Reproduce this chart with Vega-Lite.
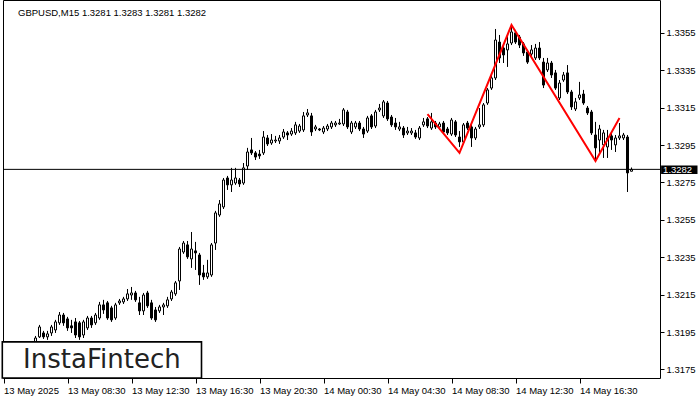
{
  "$schema": "https://vega.github.io/schema/vega-lite/v6.json",
  "autosize": "none",
  "width": 657,
  "height": 378,
  "padding": {"left": 3, "top": 0, "right": 40, "bottom": 22},
  "background": "#ffffff",
  "config": {
    "view": {"stroke": "#000000", "strokeWidth": 1},
    "font": "Liberation Sans"
  },
  "title": {
    "text": "GBPUSD,M15  1.3281 1.3283 1.3281 1.3282",
    "anchor": "start",
    "frame": "group",
    "orient": "top",
    "offset": -22,
    "dx": 15,
    "baseline": "middle",
    "font": "Liberation Sans",
    "fontSize": 9.5,
    "fontWeight": "normal",
    "color": "#000000"
  },
  "datasets": {
    "candles": [
      {"k":0,"o":1.31880,"h":1.31895,"l":1.31840,"c":1.31860},
      {"k":1,"o":1.31860,"h":1.31880,"l":1.31830,"c":1.31850},
      {"k":2,"o":1.31850,"h":1.31890,"l":1.31840,"c":1.31875},
      {"k":3,"o":1.31875,"h":1.31895,"l":1.31850,"c":1.31860},
      {"k":4,"o":1.31860,"h":1.31870,"l":1.31820,"c":1.31835},
      {"k":5,"o":1.31835,"h":1.31870,"l":1.31825,"c":1.31860},
      {"k":6,"o":1.31860,"h":1.31890,"l":1.31850,"c":1.31880},
      {"k":7,"o":1.31880,"h":1.31895,"l":1.31860,"c":1.31870},
      {"k":8,"o":1.31897,"h":1.31929,"l":1.31881,"c":1.31918},
      {"k":9,"o":1.31924,"h":1.31988,"l":1.31918,"c":1.31977},
      {"k":10,"o":1.31945,"h":1.31956,"l":1.31913,"c":1.31924},
      {"k":11,"o":1.31924,"h":1.31956,"l":1.31908,"c":1.31940},
      {"k":12,"o":1.31945,"h":1.31988,"l":1.31929,"c":1.31977},
      {"k":13,"o":1.31961,"h":1.32015,"l":1.31945,"c":1.32004},
      {"k":14,"o":1.31999,"h":1.32057,"l":1.31988,"c":1.32041},
      {"k":15,"o":1.32041,"h":1.32052,"l":1.31983,"c":1.31999},
      {"k":16,"o":1.32020,"h":1.32031,"l":1.31956,"c":1.31972},
      {"k":17,"o":1.31983,"h":1.32015,"l":1.31945,"c":1.31972},
      {"k":18,"o":1.32004,"h":1.32025,"l":1.31918,"c":1.31934},
      {"k":19,"o":1.31999,"h":1.32009,"l":1.31908,"c":1.31924},
      {"k":20,"o":1.31934,"h":1.32015,"l":1.31918,"c":1.32004},
      {"k":21,"o":1.31972,"h":1.32036,"l":1.31961,"c":1.32025},
      {"k":22,"o":1.32025,"h":1.32036,"l":1.31972,"c":1.31988},
      {"k":23,"o":1.31999,"h":1.32052,"l":1.31988,"c":1.32041},
      {"k":24,"o":1.32025,"h":1.32111,"l":1.32015,"c":1.32095},
      {"k":25,"o":1.32095,"h":1.32122,"l":1.32047,"c":1.32068},
      {"k":26,"o":1.32106,"h":1.32116,"l":1.32015,"c":1.32025},
      {"k":27,"o":1.32079,"h":1.32090,"l":1.32004,"c":1.32015},
      {"k":28,"o":1.32025,"h":1.32106,"l":1.32015,"c":1.32095},
      {"k":29,"o":1.32106,"h":1.32127,"l":1.32095,"c":1.32116},
      {"k":30,"o":1.32111,"h":1.32138,"l":1.32100,"c":1.32127},
      {"k":31,"o":1.32127,"h":1.32180,"l":1.32116,"c":1.32154},
      {"k":32,"o":1.32148,"h":1.32191,"l":1.32122,"c":1.32159},
      {"k":33,"o":1.32159,"h":1.32170,"l":1.32111,"c":1.32122},
      {"k":34,"o":1.32106,"h":1.32138,"l":1.32041,"c":1.32063},
      {"k":35,"o":1.32063,"h":1.32159,"l":1.32041,"c":1.32148},
      {"k":36,"o":1.32159,"h":1.32170,"l":1.32079,"c":1.32090},
      {"k":37,"o":1.32106,"h":1.32122,"l":1.32015,"c":1.32025},
      {"k":38,"o":1.32068,"h":1.32084,"l":1.32004,"c":1.32015},
      {"k":39,"o":1.32063,"h":1.32095,"l":1.32052,"c":1.32084},
      {"k":40,"o":1.32084,"h":1.32106,"l":1.32041,"c":1.32095},
      {"k":41,"o":1.32090,"h":1.32138,"l":1.32079,"c":1.32122},
      {"k":42,"o":1.32127,"h":1.32175,"l":1.32116,"c":1.32164},
      {"k":43,"o":1.32154,"h":1.32223,"l":1.32143,"c":1.32213},
      {"k":44,"o":1.32223,"h":1.32405,"l":1.32175,"c":1.32394},
      {"k":45,"o":1.32378,"h":1.32437,"l":1.32368,"c":1.32426},
      {"k":46,"o":1.32416,"h":1.32437,"l":1.32341,"c":1.32352},
      {"k":47,"o":1.32341,"h":1.32485,"l":1.32293,"c":1.32394},
      {"k":48,"o":1.32384,"h":1.32432,"l":1.32282,"c":1.32373},
      {"k":49,"o":1.32362,"h":1.32373,"l":1.32202,"c":1.32255},
      {"k":50,"o":1.32266,"h":1.32309,"l":1.32229,"c":1.32245},
      {"k":51,"o":1.32245,"h":1.32336,"l":1.32234,"c":1.32266},
      {"k":52,"o":1.32255,"h":1.32426,"l":1.32245,"c":1.32416},
      {"k":53,"o":1.32426,"h":1.32598,"l":1.32389,"c":1.32587},
      {"k":54,"o":1.32576,"h":1.32656,"l":1.32566,"c":1.32635},
      {"k":55,"o":1.32619,"h":1.32774,"l":1.32608,"c":1.32763},
      {"k":56,"o":1.32774,"h":1.32785,"l":1.32710,"c":1.32737},
      {"k":57,"o":1.32737,"h":1.32828,"l":1.32699,"c":1.32763},
      {"k":58,"o":1.32747,"h":1.32828,"l":1.32737,"c":1.32774},
      {"k":59,"o":1.32763,"h":1.32774,"l":1.32726,"c":1.32742},
      {"k":60,"o":1.32747,"h":1.32854,"l":1.32737,"c":1.32828},
      {"k":61,"o":1.32838,"h":1.32935,"l":1.32817,"c":1.32913},
      {"k":62,"o":1.32924,"h":1.32988,"l":1.32897,"c":1.32908},
      {"k":63,"o":1.32908,"h":1.32918,"l":1.32870,"c":1.32886},
      {"k":64,"o":1.32902,"h":1.32924,"l":1.32876,"c":1.32892},
      {"k":65,"o":1.32908,"h":1.33025,"l":1.32897,"c":1.32993},
      {"k":66,"o":1.32988,"h":1.33004,"l":1.32945,"c":1.32956},
      {"k":67,"o":1.32961,"h":1.33009,"l":1.32951,"c":1.32977},
      {"k":68,"o":1.32972,"h":1.32999,"l":1.32961,"c":1.32977},
      {"k":69,"o":1.32972,"h":1.33004,"l":1.32956,"c":1.32988},
      {"k":70,"o":1.32993,"h":1.33036,"l":1.32983,"c":1.33020},
      {"k":71,"o":1.33015,"h":1.33025,"l":1.32977,"c":1.33004},
      {"k":72,"o":1.33009,"h":1.33041,"l":1.32999,"c":1.33025},
      {"k":73,"o":1.33015,"h":1.33074,"l":1.33004,"c":1.33058},
      {"k":74,"o":1.33025,"h":1.33063,"l":1.33015,"c":1.33052},
      {"k":75,"o":1.33031,"h":1.33127,"l":1.33020,"c":1.33106},
      {"k":76,"o":1.33111,"h":1.33143,"l":1.33100,"c":1.33122},
      {"k":77,"o":1.33106,"h":1.33122,"l":1.32999,"c":1.33020},
      {"k":78,"o":1.33036,"h":1.33058,"l":1.33025,"c":1.33047},
      {"k":79,"o":1.33036,"h":1.33041,"l":1.33025,"c":1.33031},
      {"k":80,"o":1.33020,"h":1.33052,"l":1.33009,"c":1.33041},
      {"k":81,"o":1.33036,"h":1.33063,"l":1.33025,"c":1.33052},
      {"k":82,"o":1.33047,"h":1.33079,"l":1.33036,"c":1.33068},
      {"k":83,"o":1.33058,"h":1.33079,"l":1.33047,"c":1.33068},
      {"k":84,"o":1.33063,"h":1.33090,"l":1.33058,"c":1.33068},
      {"k":85,"o":1.33063,"h":1.33148,"l":1.33052,"c":1.33138},
      {"k":86,"o":1.33127,"h":1.33138,"l":1.33036,"c":1.33047},
      {"k":87,"o":1.33020,"h":1.33079,"l":1.33009,"c":1.33068},
      {"k":88,"o":1.33047,"h":1.33079,"l":1.33036,"c":1.33068},
      {"k":89,"o":1.33068,"h":1.33079,"l":1.33025,"c":1.33036},
      {"k":90,"o":1.33036,"h":1.33047,"l":1.32988,"c":1.33009},
      {"k":91,"o":1.33025,"h":1.33106,"l":1.33015,"c":1.33095},
      {"k":92,"o":1.33106,"h":1.33116,"l":1.33036,"c":1.33047},
      {"k":93,"o":1.33052,"h":1.33138,"l":1.33041,"c":1.33127},
      {"k":94,"o":1.33138,"h":1.33170,"l":1.33127,"c":1.33148},
      {"k":95,"o":1.33106,"h":1.33191,"l":1.33095,"c":1.33181},
      {"k":96,"o":1.33175,"h":1.33186,"l":1.33079,"c":1.33090},
      {"k":97,"o":1.33100,"h":1.33111,"l":1.33047,"c":1.33058},
      {"k":98,"o":1.33068,"h":1.33095,"l":1.33031,"c":1.33047},
      {"k":99,"o":1.33036,"h":1.33074,"l":1.33025,"c":1.33047},
      {"k":100,"o":1.33041,"h":1.33052,"l":1.32988,"c":1.33004},
      {"k":101,"o":1.33015,"h":1.33047,"l":1.33004,"c":1.33025},
      {"k":102,"o":1.33015,"h":1.33041,"l":1.33004,"c":1.33025},
      {"k":103,"o":1.33015,"h":1.33031,"l":1.32983,"c":1.32993},
      {"k":104,"o":1.32988,"h":1.33052,"l":1.32977,"c":1.33041},
      {"k":105,"o":1.33058,"h":1.33095,"l":1.33047,"c":1.33074},
      {"k":106,"o":1.33090,"h":1.33100,"l":1.33041,"c":1.33052},
      {"k":107,"o":1.33041,"h":1.33122,"l":1.33031,"c":1.33074},
      {"k":108,"o":1.33068,"h":1.33079,"l":1.33036,"c":1.33047},
      {"k":109,"o":1.33047,"h":1.33074,"l":1.33031,"c":1.33063},
      {"k":110,"o":1.33068,"h":1.33079,"l":1.33009,"c":1.33020},
      {"k":111,"o":1.33036,"h":1.33047,"l":1.33004,"c":1.33015},
      {"k":112,"o":1.33009,"h":1.33095,"l":1.32999,"c":1.33084},
      {"k":113,"o":1.33074,"h":1.33084,"l":1.32993,"c":1.33004},
      {"k":114,"o":1.32993,"h":1.33025,"l":1.32940,"c":1.32967},
      {"k":115,"o":1.32967,"h":1.33068,"l":1.32956,"c":1.33058},
      {"k":116,"o":1.33068,"h":1.33079,"l":1.33031,"c":1.33041},
      {"k":117,"o":1.33047,"h":1.33058,"l":1.32940,"c":1.32988},
      {"k":118,"o":1.32988,"h":1.33047,"l":1.32977,"c":1.33036},
      {"k":119,"o":1.33047,"h":1.33148,"l":1.33036,"c":1.33058},
      {"k":120,"o":1.33058,"h":1.33175,"l":1.33047,"c":1.33165},
      {"k":121,"o":1.33175,"h":1.33255,"l":1.33165,"c":1.33245},
      {"k":122,"o":1.33255,"h":1.33325,"l":1.33245,"c":1.33309},
      {"k":123,"o":1.33309,"h":1.33571,"l":1.33298,"c":1.33512},
      {"k":124,"o":1.33501,"h":1.33539,"l":1.33389,"c":1.33416},
      {"k":125,"o":1.33469,"h":1.33485,"l":1.33389,"c":1.33432},
      {"k":126,"o":1.33459,"h":1.33539,"l":1.33368,"c":1.33491},
      {"k":127,"o":1.33496,"h":1.33587,"l":1.33485,"c":1.33555},
      {"k":128,"o":1.33550,"h":1.33566,"l":1.33491,"c":1.33501},
      {"k":129,"o":1.33528,"h":1.33539,"l":1.33469,"c":1.33485},
      {"k":130,"o":1.33491,"h":1.33501,"l":1.33427,"c":1.33443},
      {"k":131,"o":1.33448,"h":1.33459,"l":1.33384,"c":1.33394},
      {"k":132,"o":1.33437,"h":1.33485,"l":1.33427,"c":1.33459},
      {"k":133,"o":1.33416,"h":1.33491,"l":1.33405,"c":1.33469},
      {"k":134,"o":1.33469,"h":1.33501,"l":1.33405,"c":1.33416},
      {"k":135,"o":1.33394,"h":1.33416,"l":1.33255,"c":1.33271},
      {"k":136,"o":1.33352,"h":1.33416,"l":1.33341,"c":1.33389},
      {"k":137,"o":1.33389,"h":1.33400,"l":1.33309,"c":1.33325},
      {"k":138,"o":1.33336,"h":1.33352,"l":1.33245,"c":1.33255},
      {"k":139,"o":1.33202,"h":1.33298,"l":1.33191,"c":1.33282},
      {"k":140,"o":1.33298,"h":1.33341,"l":1.33288,"c":1.33325},
      {"k":141,"o":1.33336,"h":1.33378,"l":1.33223,"c":1.33234},
      {"k":142,"o":1.33234,"h":1.33245,"l":1.33138,"c":1.33154},
      {"k":143,"o":1.33143,"h":1.33202,"l":1.33132,"c":1.33181},
      {"k":144,"o":1.33202,"h":1.33288,"l":1.33191,"c":1.33218},
      {"k":145,"o":1.33223,"h":1.33245,"l":1.33165,"c":1.33175},
      {"k":146,"o":1.33148,"h":1.33159,"l":1.33111,"c":1.33122},
      {"k":147,"o":1.33127,"h":1.33138,"l":1.33004,"c":1.33015},
      {"k":148,"o":1.33004,"h":1.33074,"l":1.32870,"c":1.32935},
      {"k":149,"o":1.32977,"h":1.33058,"l":1.32897,"c":1.33036},
      {"k":150,"o":1.32951,"h":1.33031,"l":1.32881,"c":1.33015},
      {"k":151,"o":1.32940,"h":1.33031,"l":1.32881,"c":1.32988},
      {"k":152,"o":1.32999,"h":1.33015,"l":1.32924,"c":1.32977},
      {"k":153,"o":1.32951,"h":1.33004,"l":1.32913,"c":1.32988},
      {"k":154,"o":1.32988,"h":1.33068,"l":1.32977,"c":1.32999},
      {"k":155,"o":1.32988,"h":1.33015,"l":1.32977,"c":1.33004},
      {"k":156,"o":1.32993,"h":1.33004,"l":1.32699,"c":1.32801},
      {"k":157,"o":1.32810,"h":1.32830,"l":1.32810,"c":1.32820}
    ],
    "pattern": [
      {"k":106,"p":1.33116},
      {"k":114,"p":1.32908},
      {"k":127,"p":1.33592},
      {"k":148,"p":1.32865},
      {"k":154,"p":1.33095}
    ],
    "bid": [{"price":1.3282,"label":"1.3282"}],
    "logo": [{"label":"InstaFintech"}]
  },
  "layer": [
    {
      "data": {"name": "candles"},
      "mark": {"type": "rule", "color": "#000000", "strokeWidth": 1, "clip": true},
      "encoding": {
        "x": {"field": "k", "type": "quantitative",
          "scale": {"domain": [-0.125, 164.125], "nice": false, "zero": false, "padding": 0},
          "axis": {
            "orient": "bottom",
            "values": [0,16,32,48,64,80,96,112,128,144],
            "labelExpr": "['13 May 2025','13 May 08:30','13 May 12:30','13 May 16:30','13 May 20:30','14 May 00:30','14 May 04:30','14 May 08:30','14 May 12:30','14 May 16:30'][round(datum.value/16)]",
            "labelAlign": "left",
            "labelBaseline": "top",
            "labelPadding": 2,
            "labelFont": "Liberation Sans",
            "labelFontSize": 9.5,
            "labelColor": "#000000",
            "labelOverlap": false,
            "labelFlush": false,
            "labelBound": false,
            "tickSize": 5,
            "tickColor": "#000000",
            "domain": false,
            "grid": false,
            "title": null
          }
        },
        "y": {"field": "l", "type": "quantitative",
          "scale": {"domain": [1.31704, 1.33726], "nice": false, "zero": false, "padding": 0},
          "axis": {
            "orient": "right",
            "values": [1.3175,1.3195,1.3215,1.3235,1.3255,1.3275,1.3295,1.3315,1.3335,1.3355],
            "format": ".4f",
            "labelPadding": 2,
            "labelFont": "Liberation Sans",
            "labelFontSize": 9.5,
            "labelColor": "#000000",
            "labelBaseline": "middle",
            "tickSize": 4,
            "tickColor": "#000000",
            "domain": false,
            "grid": false,
            "title": null
          }
        },
        "y2": {"field": "h"}
      }
    },
    {
      "data": {"name": "candles"},
      "mark": {"type": "bar", "size": 2, "stroke": "#000000", "strokeWidth": 1, "clip": true},
      "encoding": {
        "x": {"field": "k", "type": "quantitative"},
        "y": {"field": "o", "type": "quantitative"},
        "y2": {"field": "c"},
        "fill": {"condition": {"test": "datum.c < datum.o", "value": "#000000"}, "value": "#ffffff"}
      }
    },
    {
      "data": {"name": "pattern"},
      "mark": {"type": "line", "color": "#ff0000", "strokeWidth": 2, "clip": true},
      "encoding": {
        "x": {"field": "k", "type": "quantitative"},
        "y": {"field": "p", "type": "quantitative"}
      }
    },
    {
      "data": {"name": "bid"},
      "mark": {"type": "rule", "color": "#000000", "strokeWidth": 1},
      "encoding": {
        "y": {"field": "price", "type": "quantitative"}
      }
    },
    {
      "data": {"name": "logo"},
      "mark": {"type": "rect", "fill": "#ffffff", "stroke": "#000000", "strokeWidth": 1.6},
      "encoding": {
        "x": {"datum": -0.3},
        "x2": {"datum": 49.5},
        "y": {"datum": 1.31704},
        "y2": {"datum": 1.31897}
      }
    },
    {
      "data": {"name": "logo"},
      "mark": {"type": "text", "font": "DejaVu Sans", "fontSize": 26, "fontWeight": "normal", "color": "#222222", "align": "center", "baseline": "middle"},
      "encoding": {
        "x": {"datum": 24.6},
        "y": {"datum": 1.31801},
        "text": {"field": "label"}
      }
    },
    {
      "data": {"name": "bid"},
      "mark": {"type": "rect", "fill": "#000000", "clip": false},
      "encoding": {
        "x": {"datum": 164.4},
        "x2": {"datum": 173.5},
        "y": {"datum": 1.32841},
        "y2": {"datum": 1.32795}
      }
    },
    {
      "data": {"name": "bid"},
      "mark": {"type": "text", "color": "#ffffff", "font": "Liberation Sans", "fontSize": 9.5, "align": "left", "baseline": "middle", "clip": false},
      "encoding": {
        "x": {"datum": 164.9},
        "y": {"datum": 1.32817},
        "text": {"field": "label"}
      }
    }
  ]
}
